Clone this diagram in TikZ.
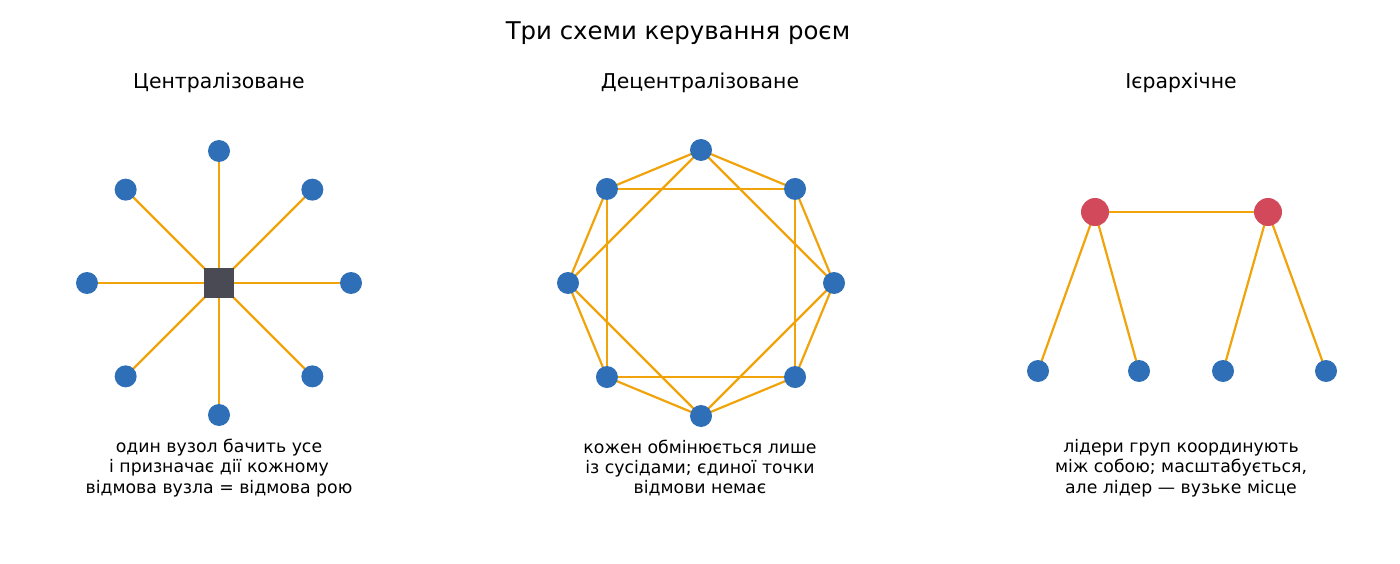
\documentclass[tikz,border=0pt]{standalone}
\usepackage{fontspec}
\setmainfont{DejaVu Sans}
\definecolor{nodeblue}{HTML}{2E6FB7}
\definecolor{edgeorange}{HTML}{F0A30A}
\definecolor{leaderred}{HTML}{D1495B}
\definecolor{hubgray}{HTML}{4A4A55}
\begin{document}
\begin{tikzpicture}[x=1pt,y=-1pt,
  agent/.style={circle,fill=nodeblue,inner sep=0pt,minimum size=22pt},
  leader/.style={circle,fill=leaderred,inner sep=0pt,minimum size=28pt},
  hub/.style={rectangle,fill=hubgray,inner sep=0pt,minimum size=30pt},
  link/.style={draw=edgeorange,line width=2.2pt},
  ttl/.style={font=\fontsize{24.4}{28}\selectfont},
  subttl/.style={font=\fontsize{20.4}{24}\selectfont},
  captext/.style={font=\fontsize{17.3}{20.3}\selectfont,align=center}]
\useasboundingbox (0,0) rectangle (1400,564);
\node[ttl] (title) at (678,33) {Три схеми керування роєм};
\node[subttl] (s1) at (219,83) {Централізоване};
\node[subttl] (s2) at (700,83) {Децентралізоване};
\node[subttl] (s3) at (1181,83) {Ієрархічне};
% centralized
\coordinate (hp) at (219,283);
\foreach \i in {0,...,7} {
  \coordinate (cp\i) at ({219+132*cos(90-45*\i)},{283-132*sin(90-45*\i)});
  \draw[link] (hp) -- (cp\i);
}
\node[hub] (hub) at (hp) {};
\foreach \i in {0,...,7} { \node[agent] (c\i) at (cp\i) {}; }
% decentralized
\foreach \i in {0,...,7} {
  \coordinate (dp\i) at ({701+133*cos(90-45*\i)},{283-133*sin(90-45*\i)});
}
\foreach \i in {0,...,7} {
  \pgfmathtruncatemacro{\a}{mod(\i+1,8)}
  \pgfmathtruncatemacro{\b}{mod(\i+2,8)}
  \draw[link] (dp\i) -- (dp\a);
  \draw[link] (dp\i) -- (dp\b);
}
\foreach \i in {0,...,7} { \node[agent] (d\i) at (dp\i) {}; }
% hierarchical
\coordinate (lp1) at (1095,212);
\coordinate (lp2) at (1268,212);
\coordinate (fp1) at (1038,371);
\coordinate (fp2) at (1139,371);
\coordinate (fp3) at (1223,371);
\coordinate (fp4) at (1326,371);
\draw[link] (lp1) -- (lp2);
\draw[link] (lp1) -- (fp1);
\draw[link] (lp1) -- (fp2);
\draw[link] (lp2) -- (fp3);
\draw[link] (lp2) -- (fp4);
\node[leader] (l1) at (lp1) {};
\node[leader] (l2) at (lp2) {};
\foreach \i in {1,...,4} { \node[agent] (f\i) at (fp\i) {}; }
% captions
\node[captext] (t1) at (219,468) {один вузол бачить усе\\і призначає дії кожному\\відмова вузла = відмова рою};
\node[captext] (t2) at (700,468) {кожен обмінюється лише\\із сусідами; єдиної точки\\відмови немає};
\node[captext] (t3) at (1181,468) {лідери груп координують\\між собою; масштабується,\\але лідер — вузьке місце};
\end{tikzpicture}
\end{document}
